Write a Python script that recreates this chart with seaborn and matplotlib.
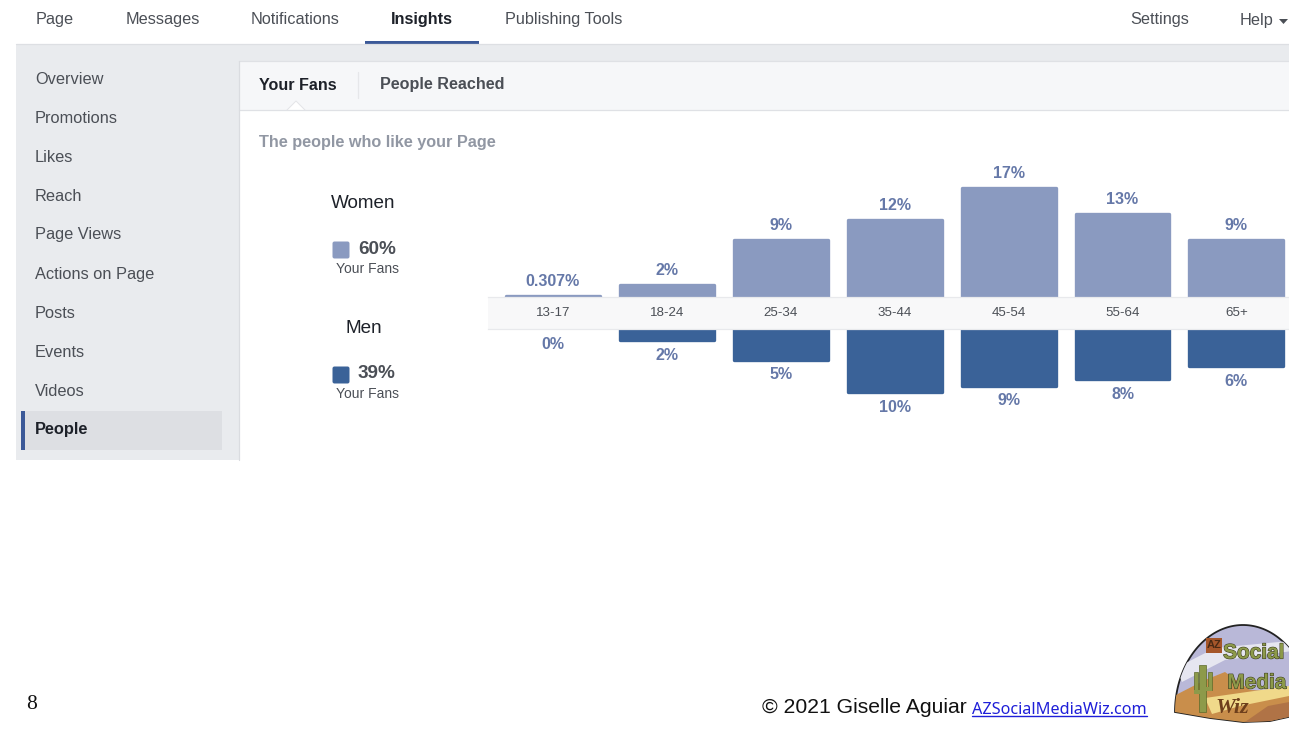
import matplotlib
matplotlib.use("Agg")
import matplotlib.pyplot as plt
from matplotlib.patches import Rectangle, Polygon, FancyBboxPatch
import matplotlib.patheffects as pe
import numpy as np
import pandas as pd
import seaborn as sns

sns.set_theme(style="white")
plt.rcParams["font.family"] = ["Liberation Sans", "DejaVu Sans"]

age_groups = ["13-17", "18-24", "25-34", "35-44", "45-54", "55-64", "65+"]
women_pct = [0.307, 2, 9, 12, 17, 13, 9]
men_pct = [0, 2, 5, 10, 9, 8, 6]
women_labels = ["0.307%", "2%", "9%", "12%", "17%", "13%", "9%"]
men_labels = ["0%", "2%", "5%", "10%", "9%", "8%", "6%"]

nav_left = ["Page", "Messages", "Notifications", "Insights", "Publishing Tools"]
nav_left_x = [36, 126, 251, 391, 505]
side_items = ["Overview", "Promotions", "Likes", "Reach", "Page Views",
              "Actions on Page", "Posts", "Events", "Videos", "People"]
side_y = [84, 123, 162, 201, 239, 279, 318, 357, 396, 434]

WOMEN = "#8a9ac0"
MEN = "#3a6298"
LABEL = "#6578a8"
W, H = 1289, 745
PX_PER_PCT = 6.5


def px_axes(fig, left, top, right, bottom, **kw):
    """Axes placed by pixel edges, measured from the top-left of the figure."""
    return fig.add_axes([left / W, 1 - bottom / H, (right - left) / W, (bottom - top) / H], **kw)


fig = plt.figure(figsize=(W / 100, H / 100), dpi=100, facecolor="white")

# Page chrome drawn in a pixel-addressed backdrop
bg = px_axes(fig, 0, 0, W, H, zorder=0)
bg.set_xlim(0, W)
bg.set_ylim(H, 0)
bg.axis("off")
bg.add_patch(Rectangle((16, 44), W - 16, 416, fc="#e9ebee", ec="none"))
bg.add_patch(Rectangle((239, 61), W - 239, 399, fc="white", ec="none"))
bg.add_patch(Rectangle((239, 61), W - 239, 49, fc="#f6f7f9", ec="none"))
bg.plot([239, W], [110, 110], color="#dfe1e5", lw=0.9)
bg.plot([239, W], [61, 61], color="#dfe1e5", lw=0.9)
bg.plot([238.5, 238.5], [61, 460], color="#dadce0", lw=0.9)
bg.plot([16, W], [44, 44], color="#dddfe3", lw=0.9)
bg.plot([358, 358], [72, 98], color="#e6e7ea", lw=0.9)
bg.add_patch(Polygon([[287, 110.5], [296, 101], [305, 110.5]], fc="white", ec="none"))
bg.plot([287, 296, 305], [110, 101, 110], color="#e3e4e8", lw=0.7)
bg.add_patch(Rectangle((365, 41), 114, 3.5, fc="#3b5998", ec="none"))

for name, x in zip(nav_left, nav_left_x):
    active = name == "Insights"
    bg.text(x, 24, name, fontsize=11.7, va="baseline", ha="left",
            color="#1d2129" if active else "#4b4f56", fontweight="bold" if active else "normal")
bg.text(1130, 24, "Settings", fontsize=11.7, va="baseline", color="#4b4f56")
bg.text(1240, 25, "Help", fontsize=11.7, va="baseline", color="#4b4f56")
bg.add_patch(Polygon([[1279, 19], [1288, 19], [1283.5, 24]], fc="#4b4f56", ec="none"))

bg.add_patch(Rectangle((22, 411), 200, 39, fc="#dddfe3", ec="none"))
bg.add_patch(Rectangle((21, 411), 4, 39, fc="#3b5998", ec="none"))
for name, y in zip(side_items, side_y):
    active = name == "People"
    bg.text(35, y, name, fontsize=11.8, va="baseline",
            color="#1d2129" if active else "#4b4f56", fontweight="bold" if active else "normal")

bg.text(259, 89.5, "Your Fans", fontsize=11.6, fontweight="bold", va="baseline", color="#1d2129")
bg.text(380, 89.5, "People Reached", fontsize=11.6, fontweight="bold", va="baseline", color="#4b4f56")
bg.text(259, 147.5, "The people who like your Page", fontsize=11.7, fontweight="bold",
        va="baseline", color="#9197a3")

# Gender summary beside the bars
for title, ty, pct, sy, col in [("Women", 208, "60%", 250, WOMEN),
                                ("Men", 333, "39%", 375, MEN)]:
    bg.text(363.5, ty, title, fontsize=13.6, ha="center", va="baseline", color="#1d2129")
    bg.add_patch(FancyBboxPatch((334, sy - 7), 14, 14, boxstyle="round,pad=1.5,rounding_size=2",
                                fc=col, ec="none"))
    bg.text(358, sy + 3.5, pct, fontsize=13.6, fontweight="bold", va="baseline", color="#4b4f56")
    bg.text(367, sy + 23, "Your Fans", fontsize=10, ha="center", va="baseline", color="#4b4f56")

# Footer
bg.text(26, 709, "8", fontsize=15.5, family="Liberation Serif", va="baseline", color="#111111")
bg.text(762, 713, "© 2021 Giselle Aguiar", fontsize=15.2, va="baseline", color="#111111")
bg.text(972, 713.5, "AZSocialMediaWiz.com", fontsize=11.7, family="Noto Sans", va="baseline", color="#1f1fd8")
bg.plot([972, 1147], [716, 716], color="#1f1fd8", lw=1)

# Logo: a desert dome with the company name across it
dome_t = np.linspace(0, np.pi, 90)
dome_x = np.r_[1243 + 68 * np.cos(dome_t), 1210, 1243, 1270, 1311]
dome_y = np.r_[712 - 87 * np.sin(dome_t), 718, 722, 721, 712]
dome = Polygon(np.c_[dome_x, dome_y], fc="#b9b8d8", ec="#222222", lw=1.3, zorder=2)
bg.add_patch(dome)
for pts, col in [([[1176, 668], [1215, 648], [1300, 640], [1300, 650], [1225, 660], [1182, 682]], "#e6e6f0"),
                 ([[1170, 698], [1205, 680], [1225, 672], [1250, 690], [1300, 692], [1300, 725],
                   [1170, 725]], "#c98e4b"),
                 ([[1205, 698], [1289, 686], [1289, 696], [1240, 706], [1212, 714]], "#f0d98a"),
                 ([[1245, 722], [1268, 706], [1300, 700], [1300, 725]], "#b07346")]:
    patch = Polygon(pts, fc=col, ec="none", zorder=2.1)
    bg.add_patch(patch)
    patch.set_clip_path(dome)
bg.add_patch(Rectangle((1199, 665), 7, 47, fc="#8d9a4a", ec="#5c6a2a", lw=0.5, zorder=2.2))
bg.add_patch(Rectangle((1194, 672), 3.5, 20, fc="#8d9a4a", ec="#5c6a2a", lw=0.5, zorder=2.2))
bg.add_patch(Rectangle((1208, 672), 3.5, 18, fc="#8d9a4a", ec="#5c6a2a", lw=0.5, zorder=2.2))
bg.add_patch(Rectangle((1194, 690), 6, 3.5, fc="#8d9a4a", ec="none", zorder=2.2))
bg.add_patch(Rectangle((1205, 687), 6.5, 3.5, fc="#8d9a4a", ec="none", zorder=2.2))
bg.add_patch(Rectangle((1206, 638), 16, 15, fc="#a5562a", ec="none", zorder=2.3))
bg.text(1214, 645.5, "AZ", fontsize=8, fontweight="bold", ha="center", va="center",
        color="#4a2a14", zorder=3)
outline = [pe.withStroke(linewidth=0.8, foreground="#3c3c1e")]
bg.text(1254, 653, "Social", fontsize=15, fontweight="bold", ha="center", va="center",
        color="#8d9a4a", zorder=3, path_effects=outline)
bg.text(1257, 683, "Media", fontsize=15, fontweight="bold", ha="center", va="center",
        color="#8d9a4a", zorder=3, path_effects=outline)
bg.text(1232, 708, "Wiz", fontsize=16, family="Liberation Serif", style="italic", fontweight="bold",
        ha="center", va="center", color="#6e3f1c", zorder=3)

# Bars: both panels share one x mapping (step 113.9 px, first centre at 553 px)
x_lim = ((488 - 553) / 113.9, (W - 553) / 113.9)
df = pd.DataFrame({"age": age_groups, "women": women_pct, "men": men_pct})

ax_w = px_axes(fig, 488, 160, W, 298, zorder=1)
ax_m = px_axes(fig, 488, 327, W, 430, zorder=1)
sns.barplot(data=df, x="age", y="women", color=WOMEN, saturation=1, width=0.825, ax=ax_w)
sns.barplot(data=df, x="age", y="men", color=MEN, saturation=1, width=0.825, ax=ax_m)
ax_w.set_ylim(0, 138 / PX_PER_PCT)
ax_m.set_ylim(103 / PX_PER_PCT, 0)

for ax, col, labels, offset in [(ax_w, WOMEN, women_labels, 5), (ax_m, MEN, men_labels, -5.5)]:
    ax.set_xlim(*x_lim)
    ax.axis("off")
    ax.patch.set_alpha(0)
    values = ax.containers[0].datavalues
    for i, (bar, val, text) in enumerate(zip(ax.containers[0], values, labels)):
        # A round-joined outline softens the corners of each bar
        bar.set(edgecolor=col if val > 0 else "none", linewidth=2.4, joinstyle="round")
        # An empty men's bar still needs its label to clear the age band
        gap = -7.3 if offset < 0 and val == 0 else offset
        ax.annotate(text, (i, val), xytext=(0, gap), textcoords="offset points", ha="center",
                    va="bottom" if offset > 0 else "top", fontsize=11.5, fontweight="bold",
                    color=LABEL, annotation_clip=False)

# Age band lying over the bar bases, carrying the category axis
band = px_axes(fig, 488, 297, W, 329, zorder=2)
band.set_facecolor("#f8f8f9")
band.set_xlim(*x_lim)
band.set_ylim(0, 1)
band.set_yticks([])
band.set_xticks(range(len(age_groups)), age_groups)
band.tick_params(axis="x", length=0, pad=-15.5, labelsize=9.6, labelcolor="#4b4f56")
band.grid(False)
for side, spine in band.spines.items():
    spine.set_visible(side in ("top", "bottom"))
    spine.set_color("#e8e9ec")
    spine.set_linewidth(0.9)

fig.savefig("out.png", dpi=100)
